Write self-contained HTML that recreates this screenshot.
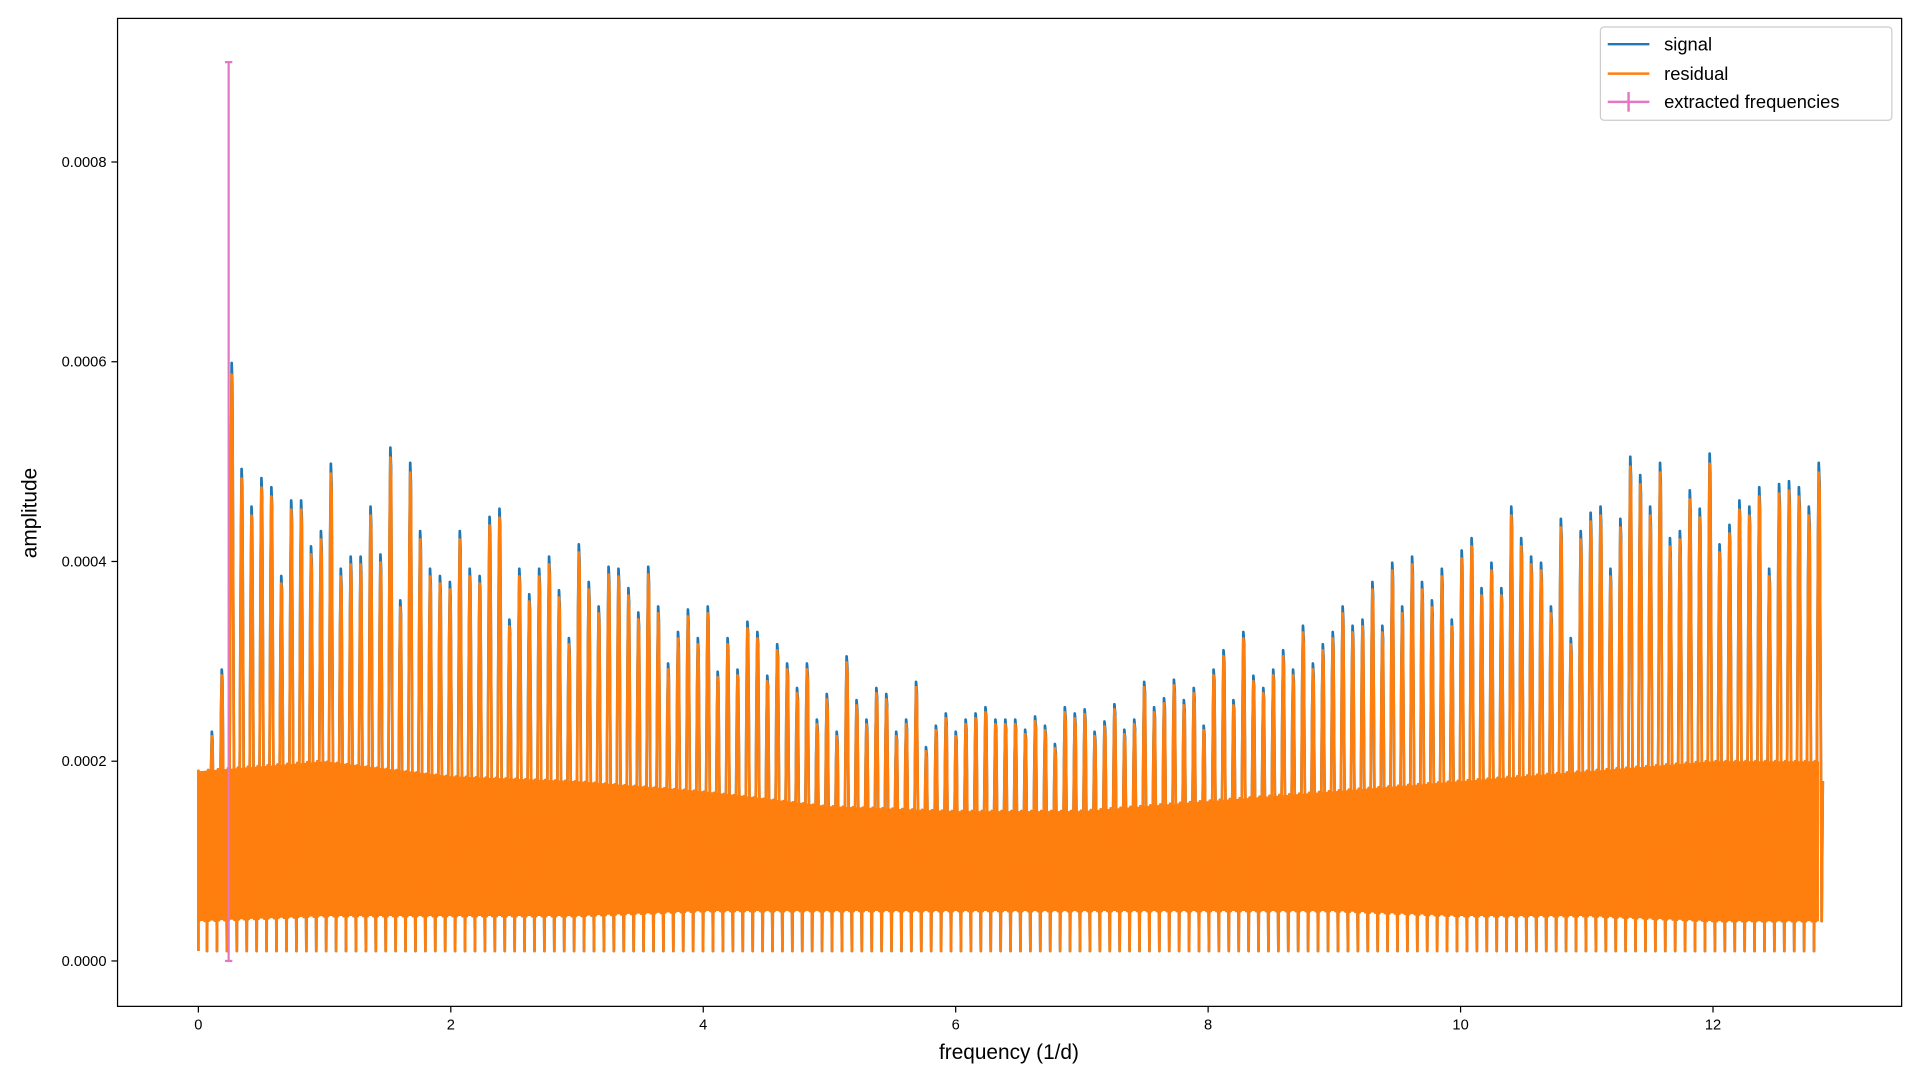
<!DOCTYPE html>
<html><head><meta charset="utf-8"><style>
html,body{margin:0;padding:0;background:#fff;}
svg{display:block;font-family:"Liberation Sans","DejaVu Sans",sans-serif;}
</style></head><body>
<svg id="chart" width="1920" height="1080" viewBox="0 0 1568 880" preserveAspectRatio="none" xmlns="http://www.w3.org/2000/svg">
<rect x="0" y="0" width="1568" height="880" fill="#fff"/>
<g id="plot"></g>
<g id="axes"></g>
</svg>
<script>
// ---- data ----
const xTicks = [0, 2, 4, 6, 8, 10, 12];
const yTicks = [0, 0.0002, 0.0004, 0.0006, 0.0008];
const yTickLabels = ["0.0000", "0.0002", "0.0004", "0.0006", "0.0008"];
const freqStart = 0.03;
const freqEnd = 12.84;
// residual peak amplitudes (units of 1e-4)
const peakAmps = [1.70,2.25,2.86,5.87,4.83,4.46,4.74,4.65,3.78,4.52,4.52,4.07,4.22,4.88,3.85,3.97,3.97,4.46,3.99,5.04,3.54,4.89,4.22,3.85,3.78,3.72,4.22,3.85,3.78,4.36,4.44,3.35,3.85,3.60,3.85,3.97,3.64,3.17,4.09,3.72,3.48,3.87,3.85,3.66,3.42,3.87,3.48,2.92,3.23,3.45,3.17,3.48,2.84,3.17,2.86,3.33,3.23,2.80,3.11,2.92,2.68,2.92,2.37,2.62,2.25,2.99,2.56,2.37,2.68,2.62,2.25,2.37,2.74,2.10,2.31,2.43,2.25,2.37,2.43,2.49,2.37,2.37,2.37,2.27,2.40,2.31,2.13,2.49,2.43,2.47,2.25,2.35,2.52,2.27,2.37,2.74,2.49,2.58,2.76,2.56,2.68,2.31,2.86,3.05,2.56,3.23,2.80,2.68,2.86,3.05,2.86,3.29,2.92,3.11,3.23,3.48,3.29,3.35,3.72,3.29,3.91,3.48,3.97,3.72,3.54,3.85,3.35,4.03,4.15,3.66,3.91,3.66,4.46,4.15,3.97,3.91,3.48,4.34,3.17,4.22,4.40,4.46,3.85,4.34,4.95,4.77,4.46,4.89,4.15,4.22,4.62,4.44,4.98,4.09,4.28,4.52,4.46,4.65,3.85,4.68,4.71,4.65,4.46,4.89];
// dense noise band (units of 1e-4) at integer frequencies 0..13
const bandFreqs = [0,1,2,3,4,5,6,7,8,9,10,11,12,13];
const bandHigh = [1.9,2.0,1.85,1.8,1.7,1.55,1.5,1.5,1.6,1.7,1.8,1.9,2.0,2.0];
const bandLow  = [0.4,0.45,0.45,0.45,0.5,0.5,0.5,0.5,0.5,0.5,0.45,0.45,0.4,0.4];
const signalScale = 1.02;
const extractedFreq = 0.24;
const extractedAmp = 0.00045;
const extractedErr = 0.00045;

// ---- axes ----
const L = 96, R = 1553, T = 15, B = 820;
const xS = f => 162 + f * 103.08;
const yS = a => 783 - a / 0.0002 * 162.75;
const NS = "http://www.w3.org/2000/svg";
function mk(tag, attrs, parent) {
  const e = document.createElementNS(NS, tag);
  for (const k in attrs) e.setAttribute(k, attrs[k]);
  parent.appendChild(e);
  return e;
}
const plot = document.getElementById('plot');
const axes = document.getElementById('axes');

function interp(arrX, arrY, x) {
  if (x <= arrX[0]) return arrY[0];
  for (let i = 1; i < arrX.length; i++) {
    if (x <= arrX[i]) {
      const t = (x - arrX[i - 1]) / (arrX[i] - arrX[i - 1]);
      return arrY[i - 1] + t * (arrY[i] - arrY[i - 1]);
    }
  }
  return arrY[arrY.length - 1];
}

const n = peakAmps.length;
const step = (freqEnd - freqStart) / (n - 1);
function buildPath(scale) {
  let d = "";
  for (let i = 0; i < n; i++) {
    const f = freqStart + i * step;
    const lo = interp(bandFreqs, bandLow, f) * 1e-4;
    const hi = interp(bandFreqs, bandHigh, f) * 1e-4;
    const a = peakAmps[i] * 1e-4 * scale;
    const pts = [
      [f - step * 0.5, 0.00001], [f - step * 0.4, hi], [f - step * 0.32, lo],
      [f - step * 0.2, a * 0.45], [f - step * 0.1, a * 0.85], [f - step * 0.03, a], [f + step * 0.05, a * 0.96],
      [f + step * 0.14, a * 0.6], [f + step * 0.26, lo], [f + step * 0.38, hi * 0.9]
    ];
    pts.forEach((p, j) => {
      d += (i === 0 && j === 0 ? "M" : "L") + xS(Math.max(0, p[0])).toFixed(1) + "," + yS(p[1]).toFixed(1);
    });
  }
  return d;
}
// band fill
let bd = "";
for (let i = 0; i < bandFreqs.length; i++) {
  const f = Math.min(bandFreqs[i], freqEnd);
  bd += (i === 0 ? "M" : "L") + xS(f).toFixed(1) + "," + yS(bandHigh[i] * 1e-4).toFixed(1);
}
for (let i = bandFreqs.length - 1; i >= 0; i--) {
  const f = Math.min(bandFreqs[i], freqEnd);
  bd += "L" + xS(f).toFixed(1) + "," + yS(bandLow[i] * 1e-4).toFixed(1);
}
bd += "Z";

const sig = mk('path', {d: buildPath(signalScale), fill: 'none', stroke: '#1f77b4', 'stroke-width': 2.2, 'stroke-linejoin': 'round'}, plot);


const band = mk('path', {d: bd, fill: '#ff7f0e', stroke: 'none'}, plot);


const res = mk('path', {d: buildPath(1), fill: 'none', stroke: '#ff7f0e', 'stroke-width': 2.2, 'stroke-linejoin': 'round'}, plot);



// extracted frequency errorbar
const ex = xS(extractedFreq);
const ey1 = yS(extractedAmp - extractedErr), ey2 = yS(extractedAmp + extractedErr);
const eb = mk('g', {stroke: '#e377c2', 'stroke-width': 1.8}, plot);


mk('line', {x1: ex, x2: ex, y1: ey1, y2: ey2}, eb);
mk('line', {x1: ex - 3, x2: ex + 3, y1: ey1, y2: ey1}, eb);
mk('line', {x1: ex - 3, x2: ex + 3, y1: ey2, y2: ey2}, eb);

// frame
const fr = mk('rect', {x: L, y: T, width: R - L, height: B - T, fill: 'none', stroke: '#000', 'stroke-width': 1}, axes);



xTicks.forEach(v => {
  const x = xS(v);
  const tk = mk('line', {x1: x, x2: x, y1: B, y2: B + 5, stroke: '#000'}, axes);
  
  
  const t = mk('text', {x: x, y: B + 19, 'font-size': 12, 'text-anchor': 'middle', fill: '#000'}, axes);
  t.textContent = String(v);
  
  
});
yTicks.forEach((v, i) => {
  const y = yS(v);
  const tk = mk('line', {x1: L - 5, x2: L, y1: y, y2: y, stroke: '#000'}, axes);
  
  
  const t = mk('text', {x: L - 9, y: y + 4, 'font-size': 12, 'text-anchor': 'end', fill: '#000'}, axes);
  t.textContent = yTickLabels[i];
  
  
});
</script>
<svg style="position:absolute;left:0;top:0" width="1920" height="1080" viewBox="0 0 1568 880" preserveAspectRatio="none" xmlns="http://www.w3.org/2000/svg" font-family="Liberation Sans, DejaVu Sans, sans-serif">
  <text x="824" y="863" font-size="17" text-anchor="middle">frequency (1/d)</text>
  <text x="30" y="418" font-size="17" text-anchor="middle" transform="rotate(-90 30 418)">amplitude</text>
  <g>
    <rect x="1307" y="22" width="238" height="76" rx="3" fill="#fff" fill-opacity="0.85" stroke="#ccc"/>
    <g>
      <line x1="1313" x2="1347" y1="36" y2="36" stroke="#1f77b4" stroke-width="2"/>
      <text x="1359" y="41" font-size="15">signal</text>
    </g>
    <g>
      <line x1="1313" x2="1347" y1="60" y2="60" stroke="#ff7f0e" stroke-width="2"/>
      <text x="1359" y="65" font-size="15">residual</text>
    </g>
    <g>
      <line x1="1313" x2="1347" y1="83" y2="83" stroke="#e377c2" stroke-width="2"/>
      <line x1="1330" x2="1330" y1="75" y2="91" stroke="#e377c2" stroke-width="2"/>
      <text x="1359" y="88" font-size="15">extracted frequencies</text>
    </g>
  </g>
</svg>
</body></html>
